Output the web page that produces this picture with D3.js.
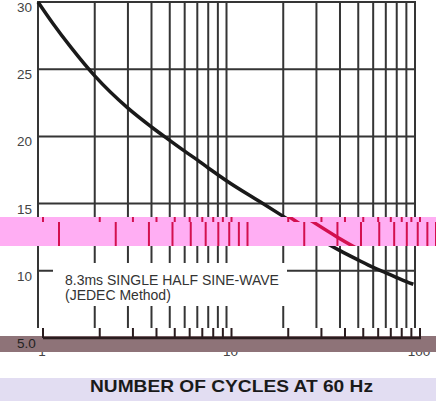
<!DOCTYPE html>
<html>
<head>
<meta charset="utf-8">
<script src="https://cdn.jsdelivr.net/npm/d3@7"></script>
<style>
  body { margin: 0; background: #fff; }
  text { font-family: Arial, "Liberation Sans", sans-serif; }
</style>
</head>
<body>
<svg id="chart" width="436" height="401"></svg>
<script>
// surge current curve
var cycles = [1, 1.2, 1.5, 2, 3, 4, 5, 6, 7, 8, 9, 10, 15, 20, 30, 40, 50, 60, 70, 80, 90, 98]
var amps = [30, 28.4, 26.6, 24.5, 22.1, 20.7, 19.7, 18.9, 18.25, 17.65, 17.15, 16.7, 15.15, 14.05, 12.5, 11.5, 10.8, 10.25, 9.85, 9.5, 9.2, 9.0]

var gridX = [1, 2, 3, 4, 5, 6, 7, 8, 9, 10, 20, 30, 40, 50, 60, 70, 80, 90, 100]
var gridY = [10, 15, 20, 25, 30]
var yTickValues = [5, 10, 15, 20, 25, 30]
var yTickLabels = ["5.0", "10", "15", "20", "25", "30"]
var xTickValues = [1, 10, 100]
var xTickLabels = ["1", "10", "100"]
var noteLines = ["8.3ms SINGLE HALF SINE-WAVE", "(JEDEC Method)"]
var xTitle = "NUMBER OF CYCLES AT 60 Hz"

var svg = d3.select("#chart")
var W = 436

var xScale = d3.scaleLog().domain([1, 100]).range([38, 415])
var yScale = d3.scaleLinear().domain([5, 30]).range([338, 2])

var points = cycles.map(function(c, i) { return [c, amps[i]] })
var line = d3.line()
  .x(function(d) { return xScale(d[0]) })
  .y(function(d) { return yScale(d[1]) })
  .curve(d3.curveMonotoneX)

function drawPlot(g, color, curveColor) {
  g.selectAll(".vgrid").data(gridX).enter().append("line")
    .attr("class", "vgrid")
    .attr("x1", function(d) { return xScale(d) })
    .attr("x2", function(d) { return xScale(d) })
    .attr("y1", yScale(30) - 1)
    .attr("y2", yScale(5))
    .attr("stroke", color)
    .attr("stroke-width", 2)

  g.selectAll(".hgrid").data(gridY).enter().append("line")
    .attr("class", "hgrid")
    .attr("x1", xScale(1))
    .attr("x2", xScale(100) + 1)
    .attr("y1", function(d) { return yScale(d) })
    .attr("y2", function(d) { return yScale(d) })
    .attr("stroke", color)
    .attr("stroke-width", 2)

  // x axis
  g.append("line")
    .attr("x1", xScale(1))
    .attr("x2", xScale(100) + 1)
    .attr("y1", yScale(5))
    .attr("y2", yScale(5))
    .attr("stroke", color)
    .attr("stroke-width", 2.5)

  g.append("path")
    .datum(points)
    .attr("d", line)
    .attr("fill", "none")
    .attr("stroke", curveColor)
    .attr("stroke-width", 3.5)
}

// main plot
var main = svg.append("g")
drawPlot(main, "#353535", "#1a1a1a")

// note box
svg.append("rect")
  .attr("x", 53).attr("y", 263)
  .attr("width", 234).attr("height", 43)
  .attr("fill", "#fff")

svg.selectAll(".note").data(noteLines).enter().append("text")
  .attr("class", "note")
  .attr("x", 65)
  .attr("y", function(d, i) { return 285 + i * 15 })
  .attr("font-size", 14)
  .attr("fill", "#333")
  .text(function(d) { return d })

// y tick labels
svg.selectAll(".ylab").data(yTickValues.slice(1)).enter().append("text")
  .attr("class", "ylab")
  .attr("x", 17)
  .attr("y", function(d) { return yScale(d) + 10 })
  .attr("font-size", 13.5)
  .attr("fill", "#444")
  .text(function(d, i) { return yTickLabels[i + 1] })

// x tick labels (mostly hidden by the band below)
svg.selectAll(".xlab").data(xTickValues).enter().append("text")
  .attr("class", "xlab")
  .attr("x", function(d) { return xScale(d) + 4 })
  .attr("y", 356)
  .attr("text-anchor", "middle")
  .attr("font-size", 13.5)
  .attr("fill", "#444")
  .text(function(d, i) { return xTickLabels[i] })

// shifted strips
var strips = [
  { y0: 217, y1: 222, dx: 5, bg: "#ffaef3", color: "#d3104f" },
  { y0: 222, y1: 246, dx: 21, bg: "#ffaef3", color: "#d3104f" },
  { y0: 328, y1: 352, dx: 5, bg: "#fff", color: "#2a1c1e" }
]

var defs = svg.append("defs")
strips.forEach(function(s, i) {
  defs.append("clipPath").attr("id", "strip" + i)
    .append("rect")
    .attr("x", 0).attr("y", s.y0)
    .attr("width", W).attr("height", s.y1 - s.y0)

  var outer = svg.append("g").attr("clip-path", "url(#strip" + i + ")")
  outer.append("rect")
    .attr("x", 0).attr("y", s.y0)
    .attr("width", W).attr("height", s.y1 - s.y0)
    .attr("fill", s.bg)
  if (i == 2) {
    outer.append("rect")
      .attr("x", 0).attr("y", 336)
      .attr("width", W).attr("height", 16)
      .attr("fill", "#8e7378")
  }
  var inner = outer.append("g").attr("transform", "translate(" + s.dx + ",0)")
  drawPlot(inner, s.color, s.color)
})

// 5.0 label sits on the band
svg.append("text")
  .attr("x", 17)
  .attr("y", yScale(5) + 10)
  .attr("font-size", 13.5)
  .attr("fill", "#222")
  .text(yTickLabels[0])

// bottom band and axis title
svg.append("rect")
  .attr("x", 0).attr("y", 378)
  .attr("width", W).attr("height", 23)
  .attr("fill", "#e2ddf2")

svg.append("text")
  .attr("x", 90)
  .attr("y", 392)
  .attr("font-size", 17)
  .attr("font-weight", "bold")
  .attr("fill", "#1a1a1a")
  .attr("textLength", 283)
  .attr("lengthAdjust", "spacingAndGlyphs")
  .text(xTitle)
</script>
</body>
</html>
